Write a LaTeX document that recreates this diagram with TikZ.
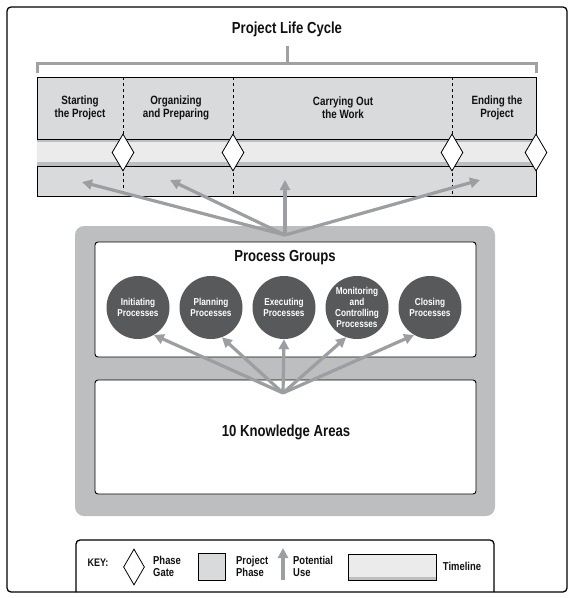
\documentclass[tikz,border=0pt]{standalone}
\usepackage{fontspec}
\setmainfont{Liberation Sans}[FakeStretch=0.82]
\usepackage{xcolor}
\usetikzlibrary{arrows.meta,shapes.geometric}

\definecolor{phasegray}{HTML}{D9DADB}
\definecolor{timegray}{HTML}{EBEBEB}
\definecolor{stripgray}{HTML}{BDBEC0}
\definecolor{usegray}{HTML}{9C9EA1}
\definecolor{panelgray}{HTML}{BCBEC0}
\definecolor{groupgray}{HTML}{58595B}
\definecolor{inkblack}{HTML}{111111}

\begin{document}
\begin{tikzpicture}[x=1pt,y=-1pt,
  txt/.style={text=inkblack, inner sep=0pt, align=center},
  gate/.style={diamond, draw, fill=white, line width=0.8pt, inner sep=0pt,
    minimum width=22pt, minimum height=37pt},
  potential/.style={usegray, line width=3.2pt, -{Triangle[length=10pt,width=10pt]}},
  group/.style={circle, fill=groupgray, text=white, inner sep=0pt, minimum size=63pt,
    align=center, font=\fontsize{10}{10.8}\selectfont\bfseries}]
\useasboundingbox (0,0) rectangle (575,598);
\draw[line width=1.3pt, rounded corners=4pt] (7,7) rectangle (567,592);

% life cycle
\node[txt, font=\fontsize{16}{18}\selectfont\bfseries] (title) at (287,29) {Project Life Cycle};
\draw[stripgray!85!black, line width=3pt] (37,73) -- (37,63) -- (536,63) -- (536,73);
\draw[stripgray!85!black, line width=3pt] (287,63) -- (287,46);

\draw[fill=phasegray, line width=0.8pt] (37,77) rectangle (536,196);
\fill[timegray] (37,139) rectangle (536,166);
\fill[stripgray] (37,139.5) rectangle (536,141.5);
\fill[stripgray] (37,162) rectangle (536,165.5);
\draw[line width=0.8pt] (37,139) -- (536,139) (37,166) -- (536,166);
\foreach \x in {123,233,452}
  \draw[dashed, line width=0.6pt] (\x,77) -- (\x,196);
\foreach \x/\n in {123/g1,233/g2,452/g3,536/g4}
  \node[gate] (\n) at (\x,152.5) {};

\foreach \x/\n/\t in {80/p1/{Starting\\the Project}, 176/p2/{Organizing\\and Preparing},
    343/p3/{Carrying Out\\the Work}, 497/p4/{Ending the\\Project}}
  \node[txt, font=\fontsize{12}{13}\selectfont\bfseries] (\n) at (\x,108) {\t};

% process groups and knowledge areas
\fill[panelgray, rounded corners=9pt] (75,226) rectangle (495,516);
\draw[fill=white, line width=0.9pt, rounded corners=3pt] (95,242) rectangle (476,357);
\draw[fill=white, line width=0.9pt, rounded corners=3pt] (95,380) rectangle (476,494);
\node[txt, font=\fontsize{16}{18}\selectfont\bfseries] (pg) at (285,258) {Process Groups};
\node[txt, font=\fontsize{16}{18}\selectfont\bfseries] (ka) at (286,432) {10 Knowledge Areas};

\foreach \x/\n/\t in {138/c1/{Initiating\\Processes}, 211/c2/{Planning\\Processes},
    284/c3/{Executing\\Processes}, 357/c4/{Monitoring\\and\\Controlling\\Processes},
    430/c5/{Closing\\Processes}}
  \node[group] (\n) at (\x,307.5) {\t};

% potential use arrows
\coordinate (up) at (285,235);
\coordinate (lo) at (283,393);
\coordinate (t1) at (82,182);
\coordinate (t2) at (170,180);
\coordinate (t3) at (285,180);
\coordinate (t4) at (480,180);
\foreach \t in {t1,t2,t3,t4}
  \draw[potential] (up) -- (\t);
\foreach \n/\a in {c1/-60,c2/-70,c3/-90,c4/-110,c5/-120}
  \draw[potential] (lo) -- (\n.\a);

% key
\draw[line width=1.3pt, rounded corners=4pt] (76,592) -- (76,540) -- (494,540) -- (494,592);
\node[txt, font=\fontsize{11}{12}\selectfont\bfseries] (key) at (98,563) {KEY:};
\node[gate, minimum width=21pt, minimum height=36pt] (kgate) at (134,567) {};
\node[txt, anchor=west, align=left, font=\fontsize{11.5}{12}\selectfont\bfseries] (kgatetxt) at (153,566) {Phase\\Gate};
\draw[fill=phasegray, line width=0.9pt] (198,553) rectangle (225,580);
\node[txt, anchor=west, align=left, font=\fontsize{11.5}{12}\selectfont\bfseries] (kphase) at (236,566) {Project\\Phase};
\coordinate (ka1) at (283,580);
\coordinate (ka2) at (283,548);
\draw[potential] (ka1) -- (ka2);
\node[txt, anchor=west, align=left, font=\fontsize{11.5}{12}\selectfont\bfseries] (kuse) at (293,566) {Potential\\Use};
\fill[timegray] (348,554) rectangle (436,580);
\fill[stripgray] (348,576.5) rectangle (436,580);
\draw[line width=0.9pt] (348,554) rectangle (436,580);
\node[txt, font=\fontsize{11.5}{12}\selectfont\bfseries] (ktime) at (462,566) {Timeline};
\end{tikzpicture}
\end{document}
